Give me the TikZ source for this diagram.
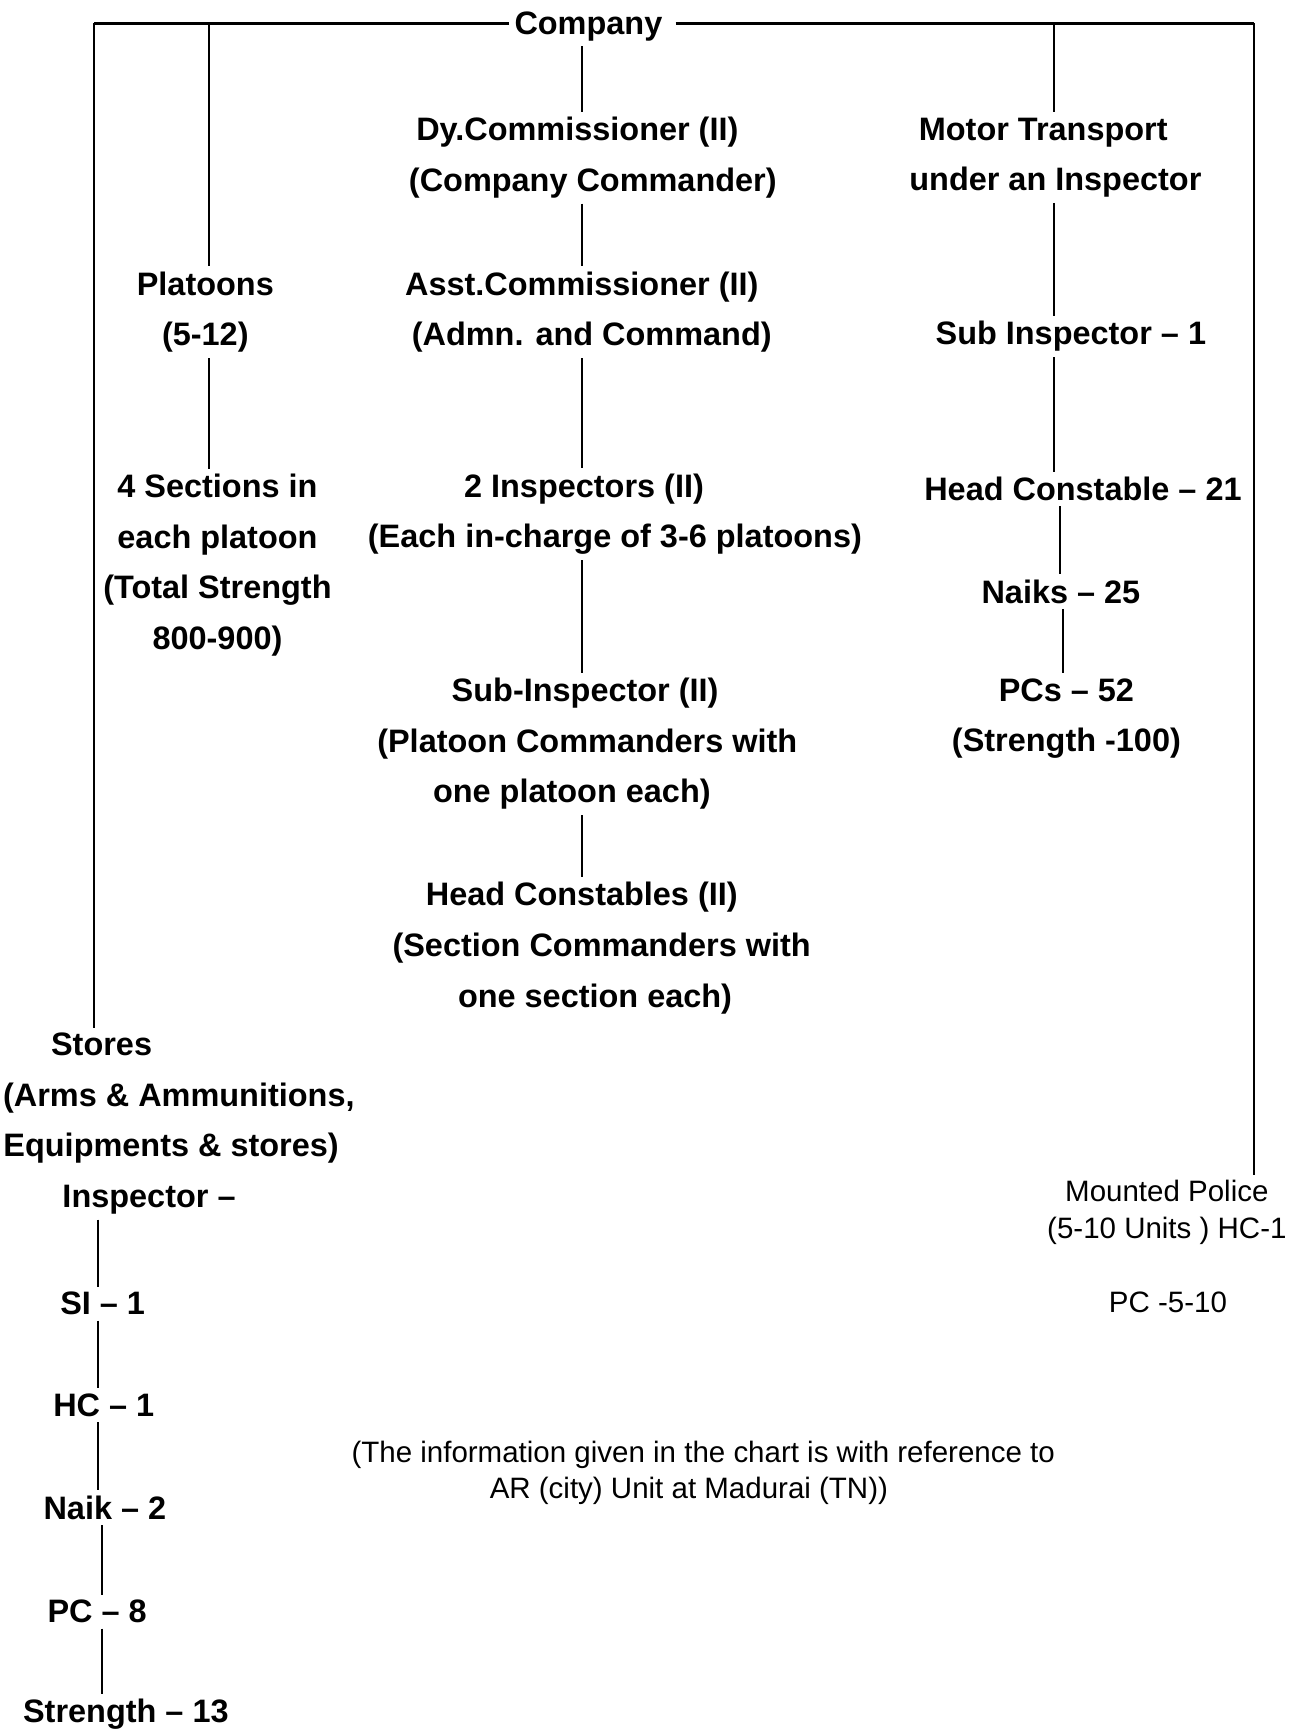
\documentclass[tikz,border=0pt]{standalone}
\usepackage{fontspec}
\setmainfont{Liberation Sans}
% one drawing unit, used for small per-line offsets inside multi-line labels
\newlength\px \setlength\px{0.025cm}
\newcommand\padL[2]{\hspace*{#1\px}#2}% nudges a centred line right by #1/2
\newcommand\padR[2]{#2\hspace*{#1\px}}% nudges a centred line left by #1/2

\begin{document}
\begin{tikzpicture}[x=0.025cm,y=-0.025cm,
  lbl/.style={align=center, inner sep=3.5pt, outer sep=0pt, yshift=-2pt,
    font=\fontsize{20.9}{32.6}\selectfont\bfseries},
  lite/.style={align=center, inner sep=3pt, outer sep=0pt, yshift=-1.5pt,
    font=\fontsize{19}{24}\selectfont},
  note/.style={align=center, inner sep=3pt, outer sep=0pt, yshift=-1.5pt,
    font=\fontsize{19}{22.7}\selectfont},
  link/.style={line width=1.35pt},
  trunk/.style={line width=2.1pt}]

\useasboundingbox[fill=white] (0,0) rectangle (1169,1568);

% ---- labels ----
\node[lbl] (company) at (533,21) {Company};
\node[lbl] (dy) at (530,140) {\padR{14}{Dy.Commissioner (II)}\\\padL{14}{(Company Commander)}};
\node[lbl] (motor) at (951,140) {\padR{12}{Motor Transport}\\\padL{10}{under an Inspector}};
\node[lbl] (platoons) at (186,280) {Platoons\\(5-12)};
\node[lbl] (asst) at (532,280) {\padR{10}{Asst.Commissioner (II)}\\\padL{8}{(Admn. and Command)}};
\node[lbl] (subone) at (970,302) {Sub Inspector – 1};
\node[lbl] (sections) at (197,509) {4 Sections in\\each platoon\\(Total Strength\\800-900)};
\node[lbl] (insp) at (543,463) {\padR{28}{2 Inspectors (II)}\\\padL{28}{(Each in-charge of 3-6 platoons)}};
\node[lbl] (hcone) at (981,440) {Head Constable – 21};
\node[lbl] (naiks) at (961,533) {Naiks – 25};
\node[lbl] (pcs) at (966,648) {PCs – 52\\(Strength -100)};
\node[lbl] (subII) at (527,671) {\padL{6}{Sub-Inspector (II)}\\\padL{10}{(Platoon Commanders with}\\\padR{18}{one platoon each)}};
\node[lbl] (hcII) at (537,856) {\padR{20}{Head Constables (II)}\\\padL{16}{(Section Commanders with}\\\padL{4}{one section each)}};
\node[lbl] (stores) at (135,1015) {\padR{86}{Stores}\\\padL{54}{(Arms \& Ammunitions,}\\\padL{40}{Equipments \& stores)}\\Inspector –};
\node[lite] (mounted) at (1057,1096) {Mounted Police\\(5-10 Units ) HC-1};
\node[lite] (pcfive) at (1058,1178) {PC -5-10};
\node[lbl] (si) at (93,1178) {SI – 1};
\node[lbl] (hc) at (94,1270) {HC – 1};
\node[lbl] (naik) at (95,1363) {Naik – 2};
\node[lbl] (pc) at (88,1457) {PC – 8};
\node[lbl] (strength) at (114,1550) {Strength – 13};
\node[note] (footer) at (631,1332) {\padL{12}{(The information given in the chart is with reference to}\\\padR{14}{AR (city) Unit at Madurai (TN))}};

% ---- column guides ----
\coordinate (tl) at (85,21);
\coordinate (tr) at (1136,21);
\coordinate (colP) at (189,21);
\coordinate (colC) at (527,21);
\coordinate (colM) at (955,21);
\coordinate (colH) at (960,0);
\coordinate (colK) at (963,0);
\coordinate (colS) at (89,0);
\coordinate (colT) at (92,0);

% ---- top bar ----
\draw[trunk] (company.west |- tl) -- (tl);
\draw[trunk] ([xshift=5pt]company.east |- tr) -- (tr);

% ---- outer branches ----
\draw[link] (tl) -- (stores.north -| tl);
\draw[link] (tr) -- (mounted.north -| tr);

% ---- platoons ----
\draw[link] (colP) -- (platoons.north -| colP);
\draw[link] (platoons.south -| colP) -- (sections.north -| colP);

% ---- command chain ----
\draw[link] (company.south -| colC) -- (dy.north -| colC);
\draw[link] (dy.south -| colC) -- (asst.north -| colC);
\draw[link] (asst.south -| colC) -- (insp.north -| colC);
\draw[link] (insp.south -| colC) -- (subII.north -| colC);
\draw[link] (subII.south -| colC) -- (hcII.north -| colC);

% ---- motor transport ----
\draw[link] (colM) -- (motor.north -| colM);
\draw[link] (motor.south -| colM) -- (subone.north -| colM);
\draw[link] (subone.south -| colM) -- (hcone.north -| colM);
\draw[link] (hcone.south -| colH) -- (naiks.north -| colH);
\draw[link] (naiks.south -| colK) -- (pcs.north -| colK);

% ---- stores ----
\draw[link] (stores.south -| colS) -- (si.north -| colS);
\draw[link] (si.south -| colS) -- (hc.north -| colS);
\draw[link] (hc.south -| colS) -- (naik.north -| colS);
\draw[link] (naik.south -| colT) -- (pc.north -| colT);
\draw[link] (pc.south -| colT) -- (strength.north -| colT);
\end{tikzpicture}
\end{document}
